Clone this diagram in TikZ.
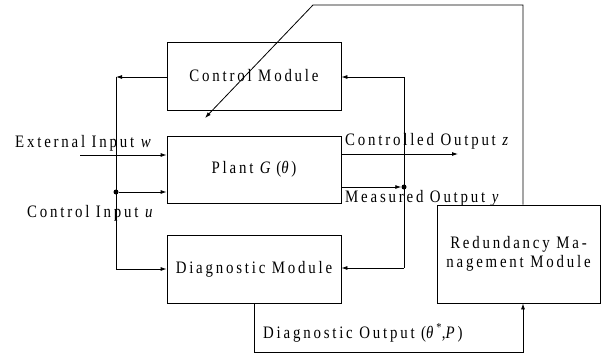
\documentclass[tikz,border=0pt]{standalone}
\usepackage{fontspec}
\setmainfont{Liberation Serif}[LetterSpace=16, FakeStretch=0.85]
\usetikzlibrary{positioning, arrows.meta, calc}

\begin{document}
\begin{tikzpicture}[x=1pt, y=-1pt, >={Latex[length=6pt,width=4pt]}, font=\fontsize{17.5}{19}\selectfont, block/.style={draw, rectangle, minimum width=174pt, minimum height=68pt, line width=0.8pt}, flow/.style={->, line width=0.8pt}, wire/.style={line width=0.8pt}, junction/.style={circle, fill, inner sep=0pt, minimum size=5pt}]
\useasboundingbox (0,0) rectangle (614,354);
\node[block] (Control) at (254,76) {Control Module};
\node[block, minimum height=67pt] (Plant) at (254,169.5) {Plant \textit{G}\,(\textit{θ})};
\node[block] (Diag) at (254,269) {Diagnostic Module};
\node[block, minimum width=163pt, minimum height=98pt, align=center, inner sep=1pt] (Red) at (518.5,254) {Redundancy Ma-\\nagement Module};
\coordinate (L1) at (116,77);
\coordinate (L2) at (116,269);
\node[junction] (uDot) at (116,192) {};
\coordinate (wIn) at (80,155);
\coordinate (R1) at (404,77);
\coordinate (R2) at (404,268);
\node[junction] (yDot) at (404,187) {};
\coordinate (zOut) at (458,154);
\coordinate (fbUp) at (523,5);
\coordinate (fbKnee) at (313,5);
\coordinate (fbEnd) at (205,118);
\coordinate (dOut) at (254,352);
% control input side
\draw[flow] (Control.west |- L1) -- (L1);
\draw[wire] (L1) -- (L2);
\draw[flow] (L2) -- (Diag.west |- L2);
\draw[flow] (uDot) -- (uDot -| Plant.west);
\draw[flow] (wIn) -- (wIn -| Plant.west);
% measured output side
\draw[flow] (Plant.east |- yDot) -- (yDot);
\draw[wire] (R1) -- (R2);
\draw[flow] (R1) -- (R1 -| Control.east);
\draw[flow] (R2) -- (R2 -| Diag.east);
\draw[flow] (zOut -| Plant.east) -- (zOut);
% redundancy management loop
\draw[flow] (Red.north -| fbUp) -- (fbUp) -- (fbKnee) -- (fbEnd);
\draw[flow] (Diag.south) -- (dOut) -| (Red.south -| fbUp);
% labels
\node[anchor=base west, inner sep=1pt] (wLabel) at (14,147) {External Input \textit{w}};
\node[anchor=base west, inner sep=1pt] (uLabel) at (26,217) {Control Input \textit{u}};
\node[anchor=base west, inner sep=1pt] (zLabel) at (344,145) {Controlled Output \textit{z}};
\node[anchor=base west, inner sep=1pt] (yLabel) at (344,202) {Measured Output \textit{y}};
\node[anchor=base west, inner sep=1pt] (dLabel) at (262,338) {Diagnostic Output (\textit{θ}\textsuperscript{*},\textit{P})};
\end{tikzpicture}
\end{document}
